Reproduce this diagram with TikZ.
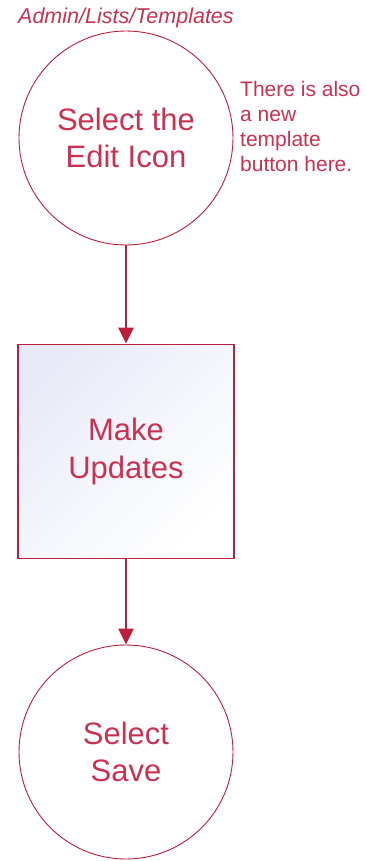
\documentclass[tikz,border=0pt]{standalone}
\usepackage{fontspec}
\setmainfont{Liberation Sans}
\usetikzlibrary{arrows.meta}
\definecolor{rose}{RGB}{190,30,60}
\definecolor{rosetext}{RGB}{200,50,80}
\definecolor{lavender}{RGB}{232,234,247}

\begin{document}
\begin{tikzpicture}[x=1pt,y=-1pt,
  stepcircle/.style={circle,draw=rose,line width=0.9pt,minimum size=214pt,inner sep=0pt,
    text=rosetext,align=center,font=\fontsize{31}{37}\selectfont},
  stepbox/.style={rectangle,draw=rose,line width=1.8pt,minimum width=216pt,minimum height=214pt,
    inner sep=0pt,text=rosetext,align=center,font=\fontsize{31}{38}\selectfont,
    top color=lavender,bottom color=white,middle color=lavender!45!white,shading angle=45},
  flowarrow/.style={draw=rose,line width=2.4pt,-{Triangle[width=15pt,length=16pt]}}]
 \useasboundingbox (0,0) rectangle (365,861);
 % title and side note
 \node[anchor=base west,inner sep=0pt,text=rosetext,font=\fontsize{21.5}{24}\selectfont\itshape]
   (path) at (18,24) {Admin/Lists/Templates};
 \node[anchor=north west,inner sep=0pt,align=left,text=rosetext,font=\fontsize{21}{25}\selectfont]
   (note) at (240,81) {There is also\\a new\\template\\button here.};
 % flow
 \node[stepcircle] (edit) at (126,138) {Select the\\Edit Icon};
 \node[stepbox] (update) at (126,451.5) {Make\\Updates};
 \node[stepcircle] (save) at (126,752) {Select\\Save};
 \draw[flowarrow] (edit) -- (update);
 \draw[flowarrow] (update) -- (save);
\end{tikzpicture}
\end{document}
